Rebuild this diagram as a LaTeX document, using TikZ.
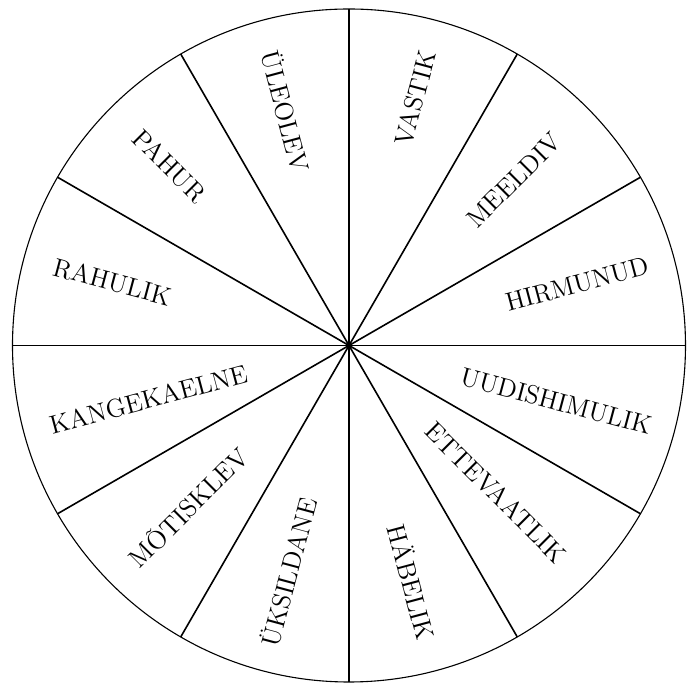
\documentclass[tikz,border=0pt]{standalone}
\usepackage{tikz}
\tikzset{
  rim/.style={draw=black, line width=0.55pt},
  spoke/.style={draw=black, line width=0.8pt},
  rlab/.style={font=\fontsize{13}{15}\selectfont, inner sep=0pt, anchor=east},
  llab/.style={font=\fontsize{13}{15}\selectfont, inner sep=0pt, anchor=west},
}

\begin{document}
\begin{tikzpicture}[x=0.5pt, y=0.5pt]
    \useasboundingbox (-349,-338.5) rectangle (338,345.5);
    \coordinate (hub) at (0,0);
    \draw[rim] (hub) circle (336.5);
    \foreach \ang in {0,30,...,330}
      \draw[spoke] (hub) -- (\ang:336.5);
    % right half: text reads outward
    \node[rlab, rotate=75]  (vastik)   at (75:305)  {VASTIK};
    \node[rlab, rotate=45]  (meeldiv)  at (45:295)  {MEELDIV};
    \node[rlab, rotate=15]  (hirmunud) at (15:310)  {HIRMUNUD};
    \node[rlab, rotate=-15] (uudis)    at (-15:313) {UUDISHIMULIK};
    \node[rlab, rotate=-45] (ettev)    at (-45:302) {ETTEVAATLIK};
    \node[rlab, rotate=-75] (habelik)  at (-75:304) {HÄBELIK};
    % left half: text reads inward
    \node[llab, rotate=75]  (uksil)    at (255:311) {ÜKSILDANE};
    \node[llab, rotate=45]  (motis)    at (225:307) {MÕTISKLEV};
    \node[llab, rotate=15]  (kange)    at (195:310) {KANGEKAELNE};
    \node[llab, rotate=-15] (rahulik)  at (165:306) {RAHULIK};
    \node[llab, rotate=-45] (pahur)    at (135:300) {PAHUR};
    \node[llab, rotate=-75] (uleolev)  at (105:305) {ÜLEOLEV};
  \end{tikzpicture}
\end{document}
